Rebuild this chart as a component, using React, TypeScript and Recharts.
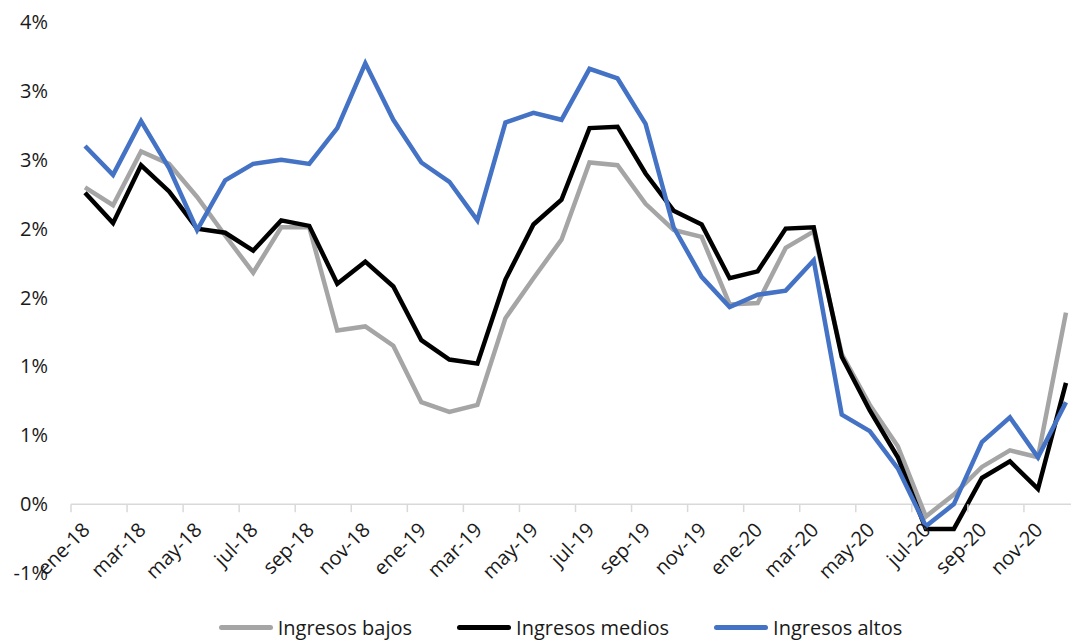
import { LineChart, Line, XAxis, YAxis, ReferenceLine, Legend } from 'recharts';

const months = [
  'ene-18', 'feb-18', 'mar-18', 'abr-18', 'may-18', 'jun-18', 'jul-18', 'ago-18', 'sep-18', 'oct-18', 'nov-18', 'dic-18',
  'ene-19', 'feb-19', 'mar-19', 'abr-19', 'may-19', 'jun-19', 'jul-19', 'ago-19', 'sep-19', 'oct-19', 'nov-19', 'dic-19',
  'ene-20', 'feb-20', 'mar-20', 'abr-20', 'may-20', 'jun-20', 'jul-20', 'ago-20', 'sep-20', 'oct-20', 'nov-20', 'dic-20',
];

const ingresosBajos = [
  2.30, 2.17, 2.56, 2.47, 2.23, 1.95, 1.68, 2.01, 2.01, 1.26, 1.29, 1.15,
  0.74, 0.67, 0.72, 1.35, 1.64, 1.92, 2.48, 2.46, 2.18, 1.99, 1.94, 1.45,
  1.46, 1.86, 1.98, 1.09, 0.72, 0.42, -0.09, 0.07, 0.27, 0.39, 0.34, 1.39,
];

const ingresosMedios = [
  2.26, 2.04, 2.46, 2.27, 2.00, 1.97, 1.84, 2.06, 2.02, 1.60, 1.76, 1.58,
  1.19, 1.05, 1.02, 1.63, 2.03, 2.21, 2.73, 2.74, 2.40, 2.13, 2.03, 1.64,
  1.69, 2.00, 2.01, 1.07, 0.68, 0.34, -0.18, -0.18, 0.19, 0.31, 0.11, 0.88,
];

const ingresosAltos = [
  2.60, 2.39, 2.78, 2.44, 1.99, 2.35, 2.47, 2.50, 2.47, 2.73, 3.20, 2.79,
  2.48, 2.34, 2.06, 2.77, 2.84, 2.79, 3.16, 3.09, 2.76, 2.01, 1.65, 1.43,
  1.52, 1.55, 1.77, 0.65, 0.53, 0.26, -0.16, 0.00, 0.45, 0.63, 0.34, 0.74,
];

const yTicks = [-0.5, 0, 0.5, 1, 1.5, 2, 2.5, 3, 3.5];

const series = [
  { key: 'bajos', name: 'Ingresos bajos', color: '#a5a5a5' },
  { key: 'medios', name: 'Ingresos medios', color: '#000000' },
  { key: 'altos', name: 'Ingresos altos', color: '#4472c4' },
];

const data = months.map((month, i) => ({
  month,
  bajos: ingresosBajos[i],
  medios: ingresosMedios[i],
  altos: ingresosAltos[i],
}));

const FONT = '"Open Sans", "Noto Sans", sans-serif';
const TEXT = '#1a1a1a';

const CHART_W = 1090;
const CHART_H = 642;
const MARGIN = { top: 22, right: 10, bottom: 68, left: 0 };
const Y_AXIS_W = 71;
const Y_MIN = -0.5;
const Y_MAX = 3.5;

const PLOT_W = CHART_W - MARGIN.left - MARGIN.right - Y_AXIS_W;
const PLOT_H = CHART_H - MARGIN.top - MARGIN.bottom - 1;
const HALF_BAND = PLOT_W / months.length / 2;
const ZERO_Y = MARGIN.top + (PLOT_H * Y_MAX) / (Y_MAX - Y_MIN);

// Excel-style rounding for the 0% format (half away from zero)
const pct = (v: number) => {
  const r = Math.sign(v) * Math.round(Math.abs(v));
  return `${r === 0 ? 0 : r}%`;
};

// month label hanging off the zero line, tick mark on the left band edge
function MonthTick({ x, payload }: any) {
  return (
    <g>
      <line x1={x - HALF_BAND} x2={x - HALF_BAND} y1={ZERO_Y} y2={ZERO_Y + 8} stroke="#d9d9d9" strokeWidth={1.5} />
      <text
        transform={`translate(${x + 6},${ZERO_Y + 27}) rotate(-45)`}
        textAnchor="end"
        fontSize={20}
        fontFamily={FONT}
        fill={TEXT}
      >
        {payload.value}
      </text>
    </g>
  );
}

function LegendRow() {
  return (
    <div style={{ display: 'flex', justifyContent: 'center', gap: 45, fontFamily: FONT, fontSize: 20, color: TEXT }}>
      {series.map((s) => (
        <div key={s.key} style={{ display: 'flex', alignItems: 'center' }}>
          <span style={{ display: 'inline-block', width: 54, height: 5, borderRadius: 3, background: s.color, marginRight: 5 }} />
          {s.name}
        </div>
      ))}
    </div>
  );
}

export default function App() {
  return (
    <div style={{ position: 'relative', width: 1071, height: 642, overflow: 'hidden', background: '#fff' }}>
      <style>{'body{margin:0}'}</style>
      <LineChart width={CHART_W} height={CHART_H} data={data} margin={MARGIN}>
        <ReferenceLine y={0} stroke="#d9d9d9" strokeWidth={1.5} />
        <XAxis
          dataKey="month"
          scale="band"
          interval={1}
          height={1}
          axisLine={false}
          tickLine={false}
          tick={<MonthTick />}
        />
        <YAxis
          width={Y_AXIS_W}
          domain={[Y_MIN, Y_MAX]}
          ticks={yTicks}
          tickFormatter={pct}
          axisLine={false}
          tickLine={false}
          tickMargin={17}
          tick={{ fontSize: 20, fontFamily: FONT, fill: TEXT }}
        />
        {series.map((s) => (
          <Line
            key={s.key}
            type="linear"
            dataKey={s.key}
            name={s.name}
            stroke={s.color}
            strokeWidth={4.5}
            dot={false}
            isAnimationActive={false}
          />
        ))}
        <Legend
          verticalAlign="middle"
          layout="horizontal"
          content={<LegendRow />}
          wrapperStyle={{ top: 614, left: 25, width: 1071 }}
        />
      </LineChart>
    </div>
  );
}
